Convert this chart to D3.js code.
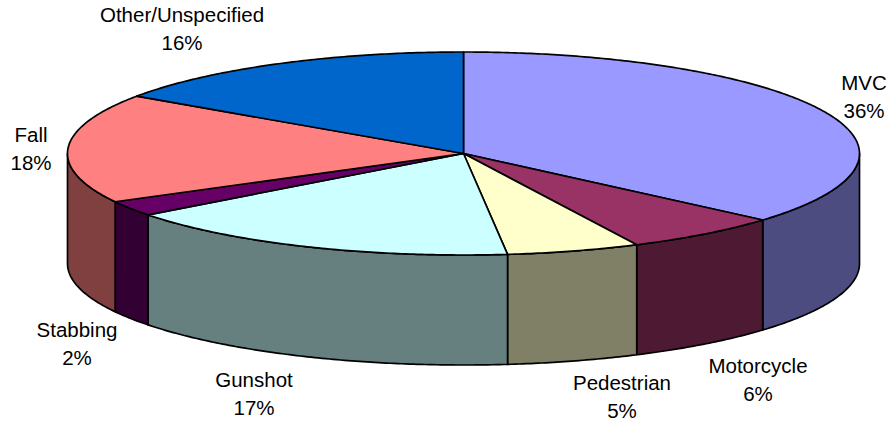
<!DOCTYPE html>
<html>
<head>
<meta charset="utf-8">
<script src="https://cdn.jsdelivr.net/npm/d3@7/dist/d3.min.js"></script>
<style>
  html, body { margin: 0; padding: 0; background: #fff; }
  svg { display: block; }
  text { font-family: "Liberation Sans", Arial, sans-serif; font-size: 20.5px; fill: #000; }
</style>
</head>
<body>
<script>
// ---- Data ----
const categories = ["MVC", "Motorcycle", "Pedestrian", "Gunshot", "Stabbing", "Fall", "Other/Unspecified"];
const values = [36.49, 6.45, 5.45, 16.5, 2.45, 17.5, 15.5]; // percent shares
const topColors = ["#9999FF", "#993366", "#FFFFCC", "#CCFFFF", "#660066", "#FF8080", "#0066CC"];
const sideColors = ["#4C4C80", "#4D1933", "#808066", "#668080", "#330033", "#804040", "#003366"];

// ---- Layout ----
const W = 893, H = 421;
const cx = 463.5, cy = 153.5, rx = 396, ry = 101.5, depth = 110;
// label anchor (center x, first baseline y)
const labelPos = [[864, 90], [758, 373], [622, 390], [254, 387], [77, 337], [31, 142], [182, 22]];
const lineGap = 27.5;

const svg = d3.select("body").append("svg").attr("width", W).attr("height", H);

const xS = d3.scaleLinear().domain([-1, 1]).range([cx - rx, cx + rx]);
const yS = d3.scaleLinear().domain([-1, 1]).range([cy + ry, cy - ry]);

const pie = d3.pie().sort(null).value(d => d.value).startAngle(0).endAngle(2 * Math.PI);
const data = categories.map((c, i) => ({ name: c, value: values[i], i }));
const arcs = pie(data);

function pt(a, dy = 0) { return [xS(Math.sin(a)), yS(Math.cos(a)) + dy]; }
function samples(a0, a1, dy = 0) {
  const n = Math.max(2, Math.ceil(Math.abs(a1 - a0) / 0.01));
  return d3.range(n + 1).map(k => pt(a0 + (a1 - a0) * k / n, dy));
}
const line = d3.line();

// sides
arcs.forEach(a => {
  const s0 = Math.max(a.startAngle, Math.PI / 2);
  const s1 = Math.min(a.endAngle, 3 * Math.PI / 2);
  if (s0 >= s1) return;
  const pts = samples(s0, s1).concat(samples(s1, s0, depth));
  svg.append("path")
    .attr("d", line(pts) + "Z")
    .attr("fill", sideColors[a.data.i])
    .attr("stroke", "#000").attr("stroke-width", 1.7).attr("stroke-linejoin", "round");
});

// tops
arcs.forEach(a => {
  const pts = [[cx, cy]].concat(samples(a.startAngle, a.endAngle));
  svg.append("path")
    .attr("d", line(pts) + "Z")
    .attr("fill", topColors[a.data.i])
    .attr("stroke", "#000").attr("stroke-width", 1.7).attr("stroke-linejoin", "round");
});

// labels
arcs.forEach(a => {
  const [lx, ly] = labelPos[a.data.i];
  const t = svg.append("text").attr("text-anchor", "middle");
  t.append("tspan").attr("x", lx).attr("y", ly).text(a.data.name);
  t.append("tspan").attr("x", lx).attr("y", ly + lineGap).text(Math.round(a.data.value) + "%");
});
</script>
</body>
</html>
